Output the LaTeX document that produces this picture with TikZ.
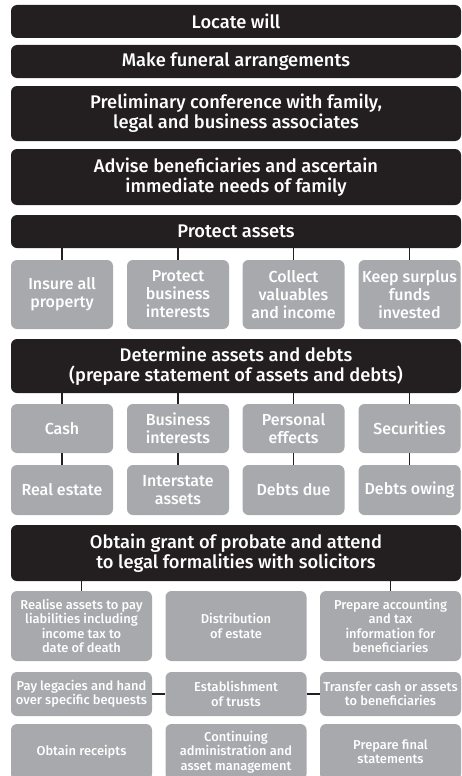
\documentclass[tikz,border=0pt]{standalone}
\usepackage{fontspec}
\setmainfont{Fira Sans}[UprightFont=* Medium]
\usetikzlibrary{positioning}
\definecolor{boxblack}{HTML}{231F20}
\definecolor{boxgrey}{HTML}{A7A9AC}

\begin{document}
\begin{tikzpicture}[x=1pt, y=-1pt,
	stage/.style={fill=boxblack, text=white, rounded corners=6pt, minimum width=450pt,
		inner sep=0pt, align=center, font=\fontsize{18.3}{19.8}\selectfont},
	task/.style={fill=boxgrey, text=white, rounded corners=6pt, minimum width=102pt,
		inner sep=0pt, align=center, font=\fontsize{16}{18}\selectfont},
	duty/.style={fill=boxgrey, text=white, rounded corners=6pt, minimum width=141pt,
		inner sep=0pt, align=center, font=\fontsize{12.9}{14.3}\selectfont},
	link/.style={draw=boxblack, line width=1.5pt}]
	\useasboundingbox (0,0) rectangle (462,776);

	% main stages
	\node[stage, minimum height=33pt] (will) at (236,21.5) {Locate will};
	\node[stage, minimum height=33pt] (funeral) at (236,61.5) {Make funeral arrangements};
	\node[stage, minimum height=55pt] (conference) at (236,113.5)
		{Preliminary conference with family,\\legal and business associates};
	\node[stage, minimum height=56pt] (advise) at (236,177)
		{Advise beneficiaries and ascertain\\immediate needs of family};
	\node[stage, minimum height=33pt] (protect) at (236,231.5) {Protect assets};

	\node[task, minimum height=69pt] (insure) at (62,294.5) {Insure all\\property};
	\node[task, minimum height=69pt] (business) at (178,294.5) {Protect\\business\\interests};
	\node[task, minimum height=69pt] (valuables) at (293.5,294.5) {Collect\\valuables\\and income};
	\node[task, minimum height=69pt] (surplus) at (409.5,294.5) {Keep surplus\\funds\\invested};

	\node[stage, minimum height=54pt] (determine) at (236,366)
		{Determine assets and debts\\(prepare statement of assets and debts)};

	\node[task, minimum height=49pt] (cash) at (62,428.5) {Cash};
	\node[task, minimum height=49pt] (interests) at (178,428.5) {Business\\interests};
	\node[task, minimum height=49pt] (effects) at (293.5,428.5) {Personal\\effects};
	\node[task, minimum height=49pt] (securities) at (409.5,428.5) {Securities};
	\node[task, minimum height=50pt] (realestate) at (62,490) {Real estate};
	\node[task, minimum height=50pt] (interstate) at (178,490) {Interstate\\assets};
	\node[task, minimum height=50pt] (due) at (293.5,490) {Debts due};
	\node[task, minimum height=50pt] (owing) at (409.5,490) {Debts owing};

	\node[stage, minimum height=56pt] (probate) at (236,553)
		{Obtain grant of probate and attend\\to legal formalities with solicitors};

	\node[duty, minimum height=70pt] (realise) at (81.5,626)
		{Realise assets to pay\\liabilities including\\income tax to\\date of death};
	\node[duty, minimum height=70pt] (distribution) at (236,626) {Distribution\\of estate};
	\node[duty, minimum height=70pt] (accounting) at (390.5,626)
		{Prepare accounting\\and tax\\information for\\beneficiaries};
	\node[duty, minimum height=44pt] (legacies) at (81.5,694) {Pay legacies and hand\\over specific bequests};
	\node[duty, minimum height=44pt] (trusts) at (236,694) {Establishment\\of trusts};
	\node[duty, minimum height=44pt] (transfer) at (390.5,694) {Transfer cash or assets\\to beneficiaries};
	\node[duty, minimum height=56pt] (receipts) at (81.5,752) {Obtain receipts};
	\node[duty, minimum height=56pt] (continuing) at (236,752)
		{Continuing\\administration and\\asset management};
	\node[duty, minimum height=56pt] (final) at (390.5,752) {Prepare final\\statements};

	% connectors
	\foreach \n in {insure, business, valuables, surplus}
		\draw[link] (\n.north) -- (\n.north |- protect.south);
	\foreach \n/\m in {cash/realestate, interests/interstate, effects/due, securities/owing} {
		\draw[link] (\n.north) -- (\n.north |- determine.south);
		\draw[link] (\n) -- (\m);
	}
	\foreach \n in {realise, accounting}
		\draw[link] (\n.north) -- (\n.north |- probate.south);
	\draw[link] (legacies) -- (trusts);
	\draw[link] (trusts) -- (transfer);
\end{tikzpicture}
\end{document}
